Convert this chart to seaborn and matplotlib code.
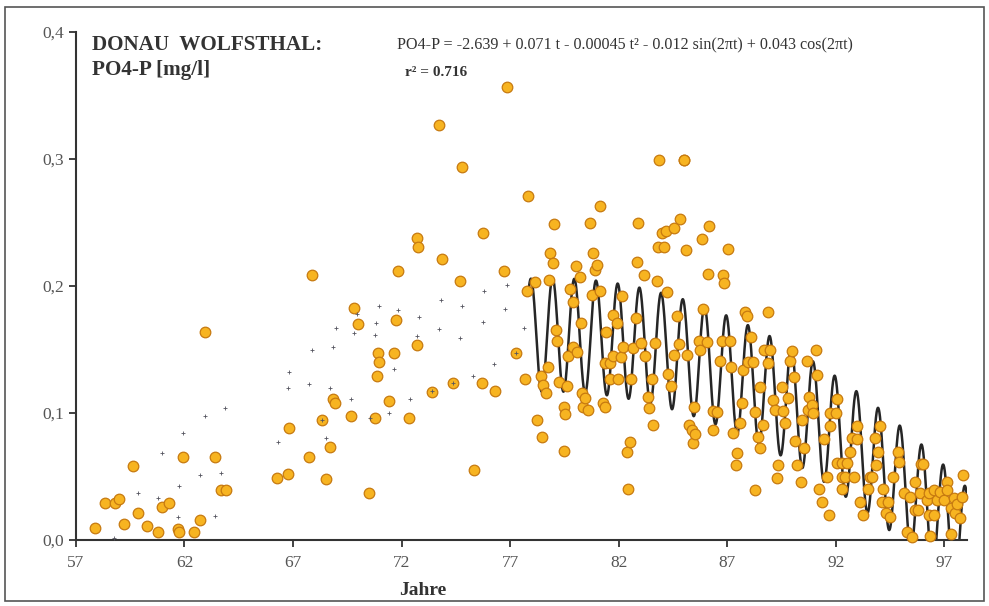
import numpy as np
import pandas as pd
import matplotlib
matplotlib.use("Agg")
import matplotlib.pyplot as plt
import seaborn as sns
from matplotlib.patches import Rectangle

# measured PO4-P values (year, mg/l)
obs_year = [
    57.89, 58.35, 58.81, 58.97, 59.23, 59.61, 59.84, 60.27, 60.78, 60.95,
    61.27, 61.69, 61.76, 61.92, 62.45, 62.73, 62.94, 63.42, 63.68, 63.91,
    66.28, 66.77, 66.83, 67.75, 67.86, 68.32, 68.52, 68.70, 68.83, 68.95,
    69.66, 69.83, 69.98, 70.52, 70.78, 70.86, 70.93, 70.98, 71.44, 71.67,
    71.73, 71.82, 72.36, 72.70, 72.73, 72.77, 73.39, 73.73, 73.85, 74.36,
    74.70, 74.77, 75.34, 75.72, 75.77, 76.31, 76.74, 76.85, 77.28, 77.69,
    77.77, 77.84, 78.15, 78.23, 78.41, 78.46, 78.53, 78.66, 78.73, 78.77,
    78.84, 78.97, 79.04, 79.12, 79.18, 79.23,
    79.46, 79.49, 79.53, 79.64, 79.69, 79.77, 79.89, 79.92, 80.04, 80.10,
    80.20, 80.26, 80.30, 80.38, 80.46, 80.61, 80.69, 80.76, 80.81, 80.92,
    81.02, 81.12, 81.15, 81.27, 81.38, 81.38, 81.42, 81.58, 81.61, 81.73,
    81.76, 81.91, 81.99, 82.12, 82.15, 82.22, 82.37, 82.42, 82.53, 82.58,
    82.65, 82.79, 82.83, 82.91, 83.04, 83.17, 83.22, 83.33, 83.42, 83.53,
    83.60, 83.68, 83.76, 83.80, 83.88, 83.99, 84.10, 84.19, 84.25, 84.29,
    84.42, 84.53, 84.56, 84.68, 84.76, 84.83, 84.99, 85.03, 85.09, 85.14,
    85.22, 85.37, 85.42, 85.45, 85.53, 85.68, 85.75, 85.83, 85.88, 86.06,
    86.10, 86.18, 86.34, 86.34, 86.52, 86.68, 86.75, 86.79, 86.87, 87.03,
    87.14, 87.18, 87.26, 87.41, 87.44, 87.60, 87.67, 87.72, 87.80, 87.91,
    87.98, 88.09, 88.18, 88.29, 88.29, 88.40, 88.52, 88.52, 88.64, 88.71,
    88.90, 88.90, 88.98, 89.13, 89.21, 89.29, 89.36,
    89.52, 89.56, 89.67, 89.82, 89.90, 89.98, 90.09, 90.13, 90.21, 90.39,
    90.44, 90.55, 90.67, 90.74, 90.79, 90.90, 90.97, 91.10, 91.16, 91.25,
    91.36, 91.44, 91.59, 91.67, 91.75, 91.75, 92.02, 92.05, 92.08, 92.28,
    92.28, 92.28, 92.44, 92.51, 92.64, 92.74, 92.85, 92.98, 93.00, 93.13,
    93.28, 93.51, 93.56, 93.67, 93.79, 93.85, 93.97, 94.05, 94.13, 94.20,
    94.33, 94.43, 94.48, 94.66, 94.85, 94.90, 95.16, 95.28, 95.40, 95.51,
    95.66, 95.66, 95.77, 95.89, 95.92, 96.00, 96.20, 96.28, 96.28, 96.35,
    96.51, 96.54, 96.66, 96.82, 96.97, 97.12, 97.13, 97.30, 97.30, 97.43,
    97.51, 97.58, 97.74, 97.81, 97.86,
]
obs_po4 = [
    .0095, .029, .029, .032, .0126, .058, .0215, .011, .0066, .0257,
    .029, .0084, .0066, .065, .0066, .0157, .1635, .065, .039, .039,
    .0485, .052, .088, .065, .209, .0945, .048, .0735, .111, .108,
    .098, .183, .170, .0367, .0958, .129, .147, .140, .1094, .147,
    .173, .212, .0958, .1535, .2375, .231, .1168, .327, .221, .124,
    .204, .294, .055, .124, .242, .1176, .212, .357, .147, .127,
    .196, .271, .203, .0945, .129, .081, .122, .1155, .1365, .2047,
    .2257, .218, .249, .165, .157, .1247,
    .105, .0703, .0992, .121, .145, .198, .1877, .152, .2157, .148,
    .2073, .1706, .1155, .105, .1115, .1024, .250, .193, .2257, .2126,
    .2165, .196, .263, .1076, .105, .1396, .164, .127, .1396, .177,
    .1449, .1706, .127, .1444, .1925, .152, .0695, .040, .0774, .127,
    .151, .1745, .2186, .250, .155, .2087, .145, .1129, .1037, .127,
    .0906, .155, .204, .2304, .299, .242, .2304, .2435, .1956, .131,
    .121, .1457, .2454, .1766, .1543, .2525, .299, .299, .228, .1457,
    .0906, .0866, .0761, .105, .0835, .1567, .150, .237, .182, .156,
    .2094, .247, .1018, .0866, .101, .141, .1567, .2087, .2026, .229,
    .1567, .1365, .0845, .059, .0688, .0919, .1076, .134, .1798, .1764,
    .1404, .1596, .1404, .101, .039, .0814, .1207, .0722, .0906, .150,
    .1793, .1396, .1496, .110, .1024, .0486, .059,
    .1207, .1018, .0919, .1115, .141, .149, .128, .078, .059, .046,
    .0945, .0727, .141, .1024, .1124, .1063, .1003, .150, .130, .040,
    .030, .0793, .0494, .0197, .1003, .090, .1003, .0604, .111, .0604,
    .0494, .040, .0494, .0604, .0695, .0806, .0494, .090, .0793, .030,
    .020, .040, .0494, .0494, .080, .059, .069, .090, .030, .040,
    .021, .030, .018, .0494, .0695, .0617, .0367, .0066, .0336, .0021,
    .046, .0236, .0236, .0367, .060, .060, .0315, .0367, .0197, .003,
    .039, .0197, .0315, .038, .0315, .046, .039, .025, .0047, .0328,
    .021, .0283, .017, .034, .051,
]

# small model dots shown for the early period
dot_year = [
    58.76, 59.84, 60.78, 60.95, 61.69, 61.76, 61.92, 62.73, 62.94, 63.42,
    63.68, 63.88, 66.29, 66.77, 66.83, 67.75, 67.86, 68.32, 68.52, 68.70,
    68.83, 68.98, 69.66, 69.83, 69.96, 70.55, 70.78, 70.83, 70.96, 71.44,
    71.67, 71.85, 72.39, 72.73, 72.81, 73.39, 73.73, 73.82, 74.36, 74.70,
    74.80, 75.31, 75.74, 75.82, 76.27, 76.77, 76.85, 77.28, 77.66,
]
dot_po4 = [
    .0013, .0367, .0328, .0688, .0178, .0425, .084, .051, .098, .019,
    .0525, .104, .0774, .120, .1325, .123, .150, .0945, .0806, .120,
    .152, .167, .111, .1627, .178, .0963, .1614, .1706, .1845, .0997,
    .1346, .181, .111, .161, .176, .117, .166, .189, .124, .159,
    .184, .129, .172, .196, .1386, .1817, .2008, .147, .167,
]

# regression printed on the chart: a + b t + c t^2 + d sin(2 pi t) + e cos(2 pi t)
coef = [-2.639, 0.071, -0.00045, -0.012, 0.043]
fit_start, fit_end = 77.84, 98.05

x_ticks = [57, 62, 67, 72, 77, 82, 87, 92, 97]
y_ticks = [0.0, 0.1, 0.2, 0.3, 0.4]
y_labels = ["0,0", "0,1", "0,2", "0,3", "0,4"]

sns.set_style("ticks")
plt.rcParams["font.family"] = ["Liberation Serif", "DejaVu Serif"]

fig = plt.figure(figsize=(9.89, 6.06), dpi=100)
ax = fig.add_axes([0.0768, 0.109, 0.901, 0.838])

t = np.linspace(fit_start, fit_end, 3000)
fit = (coef[0] + coef[1] * t + coef[2] * t ** 2
       + coef[3] * np.sin(2 * np.pi * t) + coef[4] * np.cos(2 * np.pi * t))
curve = pd.DataFrame({"t": t, "y": fit})
obs = pd.DataFrame({"t": obs_year, "y": obs_po4})
dots = pd.DataFrame({"t": dot_year, "y": dot_po4})

sns.lineplot(data=curve, x="t", y="y", ax=ax, color="#262626", lw=1.8,
             sort=False, zorder=2)
sns.scatterplot(data=obs, x="t", y="y", ax=ax, s=58, color="#F7B421",
                edgecolor="#C77A10", linewidth=0.9, zorder=3, clip_on=False)
sns.scatterplot(data=dots, x="t", y="y", ax=ax, marker="+", s=8,
                color="#55555f", linewidth=0.6, zorder=4)

ax.set_xlim(57, 98.05)
ax.set_ylim(0, 0.4)
ax.set_xticks(x_ticks)
ax.set_yticks(y_ticks)
ax.set_yticklabels(y_labels)
ax.set_xlabel("")
ax.set_ylabel("")
sns.despine(ax=ax)
for side in ["left", "bottom"]:
    ax.spines[side].set_color("#333333")
    ax.spines[side].set_linewidth(1.5)
ax.tick_params(direction="out", length=5, width=1.3, color="#333333",
               labelsize=12.5, labelcolor="#555555")
ax.tick_params(axis="x", pad=6)

ax.text(0.018, 0.974, "DONAU  WOLFSTHAL:", transform=ax.transAxes,
        fontsize=15.2, fontweight="bold", color="#333333", va="center")
ax.text(0.018, 0.925, "PO4-P [mg/l]", transform=ax.transAxes,
        fontsize=15.2, fontweight="bold", color="#333333", va="center")
ax.text(0.360, 0.974,
        "PO4-P = -2.639 + 0.071 t - 0.00045 t² - 0.012 sin(2πt) + 0.043 cos(2πt)",
        transform=ax.transAxes, fontsize=11.6, color="#333333", va="center")
ax.text(0.369, 0.921, "r² = 0.716", transform=ax.transAxes, fontsize=11,
        fontweight="bold", color="#333333", va="center")
fig.text(0.427, 0.026, "Jahre", fontsize=14, fontweight="bold",
         color="#333333", ha="center", va="center")

fig.patches.append(Rectangle((0.005, 0.008), 0.99, 0.98, transform=fig.transFigure,
                             fill=False, edgecolor="#555555", linewidth=1.2))

fig.savefig("out.png", dpi=100)
